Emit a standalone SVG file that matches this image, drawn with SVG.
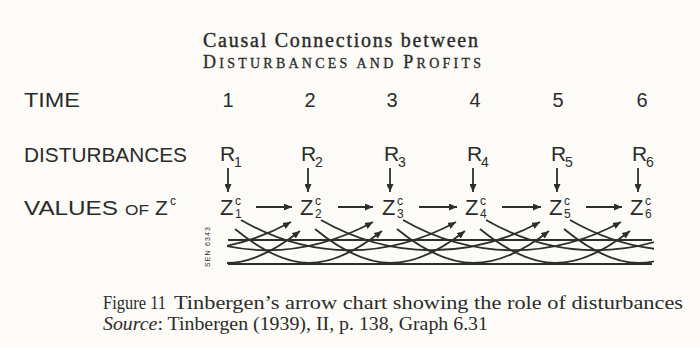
<svg xmlns="http://www.w3.org/2000/svg" width="700" height="348" viewBox="0 0 700 348">
  <defs>
    <marker id="ah" markerUnits="userSpaceOnUse" markerWidth="9" markerHeight="7" refX="8" refY="3.5" orient="auto">
      <path d="M0,0 L8,3.5 L0,7 z" fill="#2e2e2e"/>
    </marker>
    <clipPath id="clip">
      <rect x="227" y="200" width="427" height="80"/>
    </clipPath>
    <style>
      .lbl { font-family: "Liberation Sans", Arial, sans-serif; fill: #2b2b2b; }
      .ser { font-family: "Liberation Serif", "Times New Roman", serif; fill: #2b2b2b; }
      .ln { stroke: #2e2e2e; stroke-width: 1.8; fill: none; }
      .arr { stroke: #2e2e2e; stroke-width: 1.8; fill: none; marker-end: url(#ah); }
    </style>
  </defs>
  <rect x="0" y="0" width="700" height="348" fill="#fcfbf7"/>

  <!-- Title -->
  <g id="title">
    <text class="ser" x="203" y="47" font-size="20" textLength="275" lengthAdjust="spacing" stroke="#2b2b2b" stroke-width="0.4">Causal Connections between</text>
    <text class="ser" x="203" y="68" font-size="14" textLength="278" lengthAdjust="spacing" stroke="#2b2b2b" stroke-width="0.3"><tspan font-size="18">D</tspan>ISTURBANCES AND <tspan font-size="18">P</tspan>ROFITS</text>
  </g>

  <!-- Row labels -->
  <g id="row-labels">
    <text class="lbl" x="24" y="107" font-size="21" textLength="56" lengthAdjust="spacingAndGlyphs">TIME</text>
    <text class="lbl" x="24" y="162" font-size="21" textLength="163" lengthAdjust="spacingAndGlyphs">DISTURBANCES</text>
    <text class="lbl" x="24" y="215" font-size="21" textLength="94" lengthAdjust="spacingAndGlyphs">VALUES</text>
    <text class="lbl" x="125" y="215" font-size="14" textLength="24" lengthAdjust="spacingAndGlyphs">OF</text>
    <text class="lbl" x="155" y="215" font-size="21">Z</text>
    <text class="lbl" x="170" y="205" font-size="12">c</text>
  </g>

  <!-- Time numbers -->
  <g id="times" class="lbl" font-size="20" text-anchor="middle">
    <text x="228" y="107">1</text>
    <text x="310" y="107">2</text>
    <text x="392" y="107">3</text>
    <text x="475" y="107">4</text>
    <text x="558" y="107">5</text>
    <text x="642" y="107">6</text>
  </g>

  <!-- Disturbances -->
  <g id="R1"><text class="lbl" x="220" y="161" font-size="21">R</text><text class="lbl" x="234" y="167" font-size="14">1</text></g>
  <g id="R2"><text class="lbl" x="301" y="161" font-size="21">R</text><text class="lbl" x="315" y="167" font-size="14">2</text></g>
  <g id="R3"><text class="lbl" x="384" y="161" font-size="21">R</text><text class="lbl" x="398" y="167" font-size="14">3</text></g>
  <g id="R4"><text class="lbl" x="467" y="161" font-size="21">R</text><text class="lbl" x="481" y="167" font-size="14">4</text></g>
  <g id="R5"><text class="lbl" x="551" y="161" font-size="21">R</text><text class="lbl" x="565" y="167" font-size="14">5</text></g>
  <g id="R6"><text class="lbl" x="632" y="161" font-size="21">R</text><text class="lbl" x="646" y="167" font-size="14">6</text></g>

  <!-- Z nodes -->
  <g id="Z1"><text class="lbl" x="220" y="215" font-size="22">Z</text><text class="lbl" x="235" y="205" font-size="12">c</text><text class="lbl" x="235" y="218" font-size="12">1</text></g>
  <g id="Z2"><text class="lbl" x="300" y="215" font-size="22">Z</text><text class="lbl" x="315" y="205" font-size="12">c</text><text class="lbl" x="315" y="218" font-size="12">2</text></g>
  <g id="Z3"><text class="lbl" x="382" y="215" font-size="22">Z</text><text class="lbl" x="397" y="205" font-size="12">c</text><text class="lbl" x="397" y="218" font-size="12">3</text></g>
  <g id="Z4"><text class="lbl" x="465" y="215" font-size="22">Z</text><text class="lbl" x="480" y="205" font-size="12">c</text><text class="lbl" x="480" y="218" font-size="12">4</text></g>
  <g id="Z5"><text class="lbl" x="549" y="215" font-size="22">Z</text><text class="lbl" x="564" y="205" font-size="12">c</text><text class="lbl" x="564" y="218" font-size="12">5</text></g>
  <g id="Z6"><text class="lbl" x="630" y="215" font-size="22">Z</text><text class="lbl" x="645" y="205" font-size="12">c</text><text class="lbl" x="645" y="218" font-size="12">6</text></g>

  <!-- Connectors -->
  <g id="connectors">
    <!-- R to Z -->
    <line class="arr" x1="228" y1="168" x2="228" y2="192"/>
    <line class="arr" x1="308" y1="168" x2="308" y2="192"/>
    <line class="arr" x1="390" y1="168" x2="390" y2="192"/>
    <line class="arr" x1="473" y1="168" x2="473" y2="192"/>
    <line class="arr" x1="557" y1="168" x2="557" y2="192"/>
    <line class="arr" x1="638" y1="168" x2="638" y2="192"/>
    <!-- Z to Z -->
    <line class="arr" x1="256" y1="207" x2="292" y2="207"/>
    <line class="arr" x1="338" y1="207" x2="373" y2="207"/>
    <line class="arr" x1="419" y1="207" x2="457" y2="207"/>
    <line class="arr" x1="502" y1="207" x2="541" y2="207"/>
    <line class="arr" x1="586" y1="207" x2="622" y2="207"/>
    <!-- lagged arcs -->
    <g clip-path="url(#clip)">
      <line class="ln" x1="228" y1="240" x2="652" y2="240"/>
      <line class="ln" x1="228" y1="264" x2="652" y2="264"/>
      <path class="arr" d="M153,229 C208,274 245,274 300,231"/>
      <path class="arr" d="M235,229 C290,274 327,274 382,231"/>
      <path class="arr" d="M315,229 C370,274 410,274 465,231"/>
      <path class="arr" d="M397,229 C452,274 494,274 549,231"/>
      <path class="arr" d="M480,229 C535,274 575,274 630,231"/>
      <path class="arr" d="M564,229 C619,274 657,274 712,231"/>
      <path class="arr" d="M77,220 C147,260 221,260 291,222"/>
      <path class="arr" d="M159,220 C229,260 303,260 373,222"/>
      <path class="arr" d="M241,220 C311,260 386,260 456,222"/>
      <path class="arr" d="M321,220 C391,260 470,260 540,222"/>
      <path class="arr" d="M403,220 C473,260 551,260 621,222"/>
      <path class="arr" d="M486,220 C556,260 633,260 703,222"/>
      <path class="arr" d="M570,220 C640,260 715,260 785,222"/>
    </g>
  </g>

  <!-- small vertical mark -->
  <text class="lbl" font-size="7" transform="translate(210,267) rotate(-90)" textLength="40">SEN 6343</text>

  <!-- Caption -->
  <g id="caption">
    <text class="ser" x="103" y="309" font-size="18" textLength="63" lengthAdjust="spacingAndGlyphs">Figure 11</text>
    <text class="ser" x="174" y="309" font-size="18" textLength="509" lengthAdjust="spacingAndGlyphs">Tinbergen’s arrow chart showing the role of disturbances</text>
    <text class="ser" x="103" y="330" font-size="18" textLength="385" lengthAdjust="spacingAndGlyphs"><tspan font-style="italic">Source</tspan>: Tinbergen (1939), II, p. 138, Graph 6.31</text>
  </g>
</svg>
